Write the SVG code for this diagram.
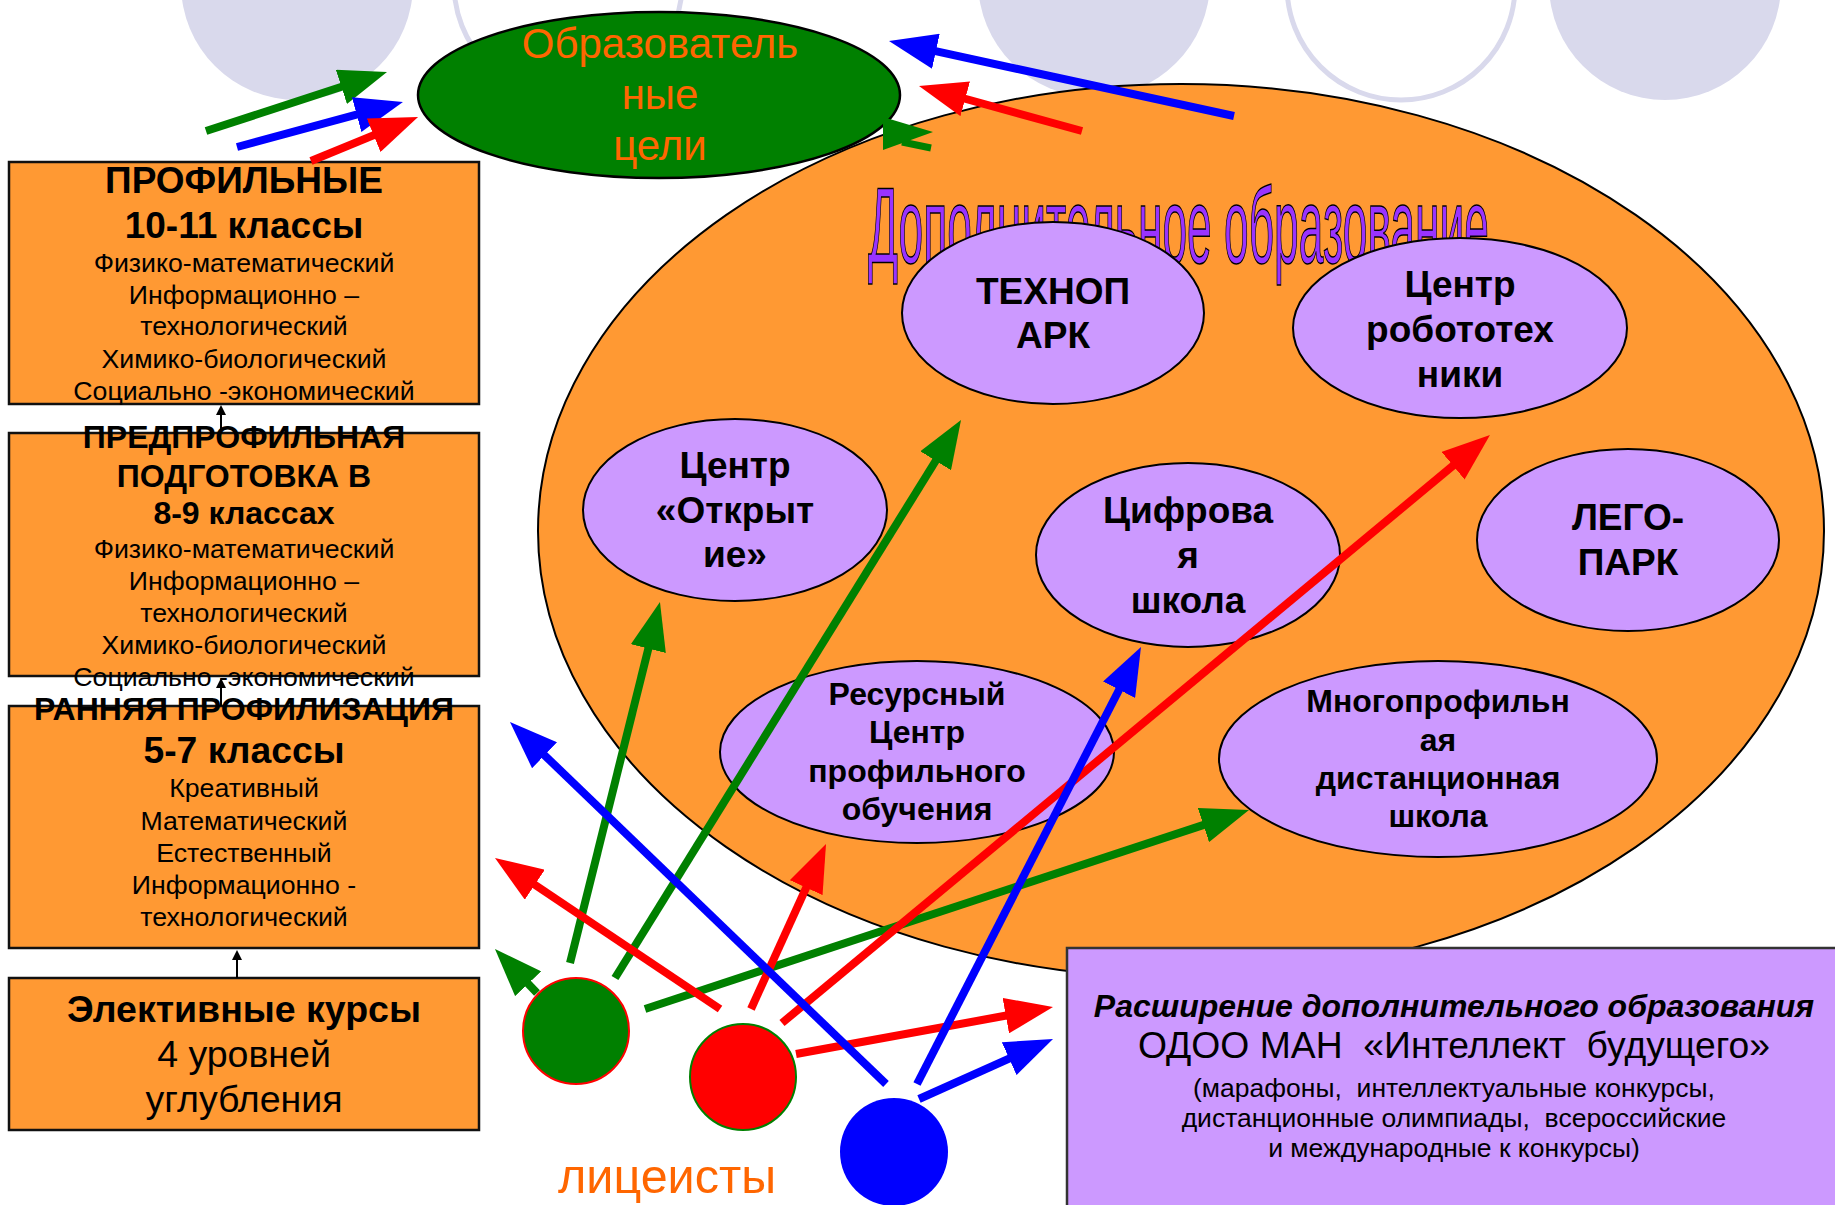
<svg xmlns="http://www.w3.org/2000/svg" width="1835" height="1205" viewBox="0 0 1835 1205">
<style>
.deco{fill:#D9D9EC}
.ring{fill:#FFFFFF;stroke:#D9D9EC;stroke-width:5}
.box{fill:#FF9933;stroke:#111;stroke-width:2.5}
.pel{fill:#CC99FF;stroke:#000;stroke-width:2}
.t{font-family:"Liberation Sans",Arial,sans-serif;text-anchor:middle;fill:#000}
.b{font-weight:bold}
.h1{font-size:37px;font-weight:bold}
.h2{font-size:32px;font-weight:bold}
.r{font-size:26.7px}
.el{font-size:37px;font-weight:bold}
.el2{font-size:32px;font-weight:bold}
.ar{fill:none;stroke-width:8}
.g{stroke:#008000}.rd{stroke:#FF0000}.bl{stroke:#0000FF}
.thin{stroke:#000;stroke-width:2;fill:none}
</style>
<defs>
<marker id="mG" viewBox="0 0 48 36" refX="18" refY="18" markerWidth="48" markerHeight="36" markerUnits="userSpaceOnUse" orient="auto"><path d="M0,0 L48,18 L0,36 Z" fill="#008000"/></marker>
<marker id="mR" viewBox="0 0 48 36" refX="18" refY="18" markerWidth="48" markerHeight="36" markerUnits="userSpaceOnUse" orient="auto"><path d="M0,0 L48,18 L0,36 Z" fill="#FF0000"/></marker>
<marker id="mB" viewBox="0 0 48 36" refX="18" refY="18" markerWidth="48" markerHeight="36" markerUnits="userSpaceOnUse" orient="auto"><path d="M0,0 L48,18 L0,36 Z" fill="#0000FF"/></marker>
<marker id="mK" viewBox="0 0 10 10" refX="2" refY="5" markerWidth="10" markerHeight="10" markerUnits="userSpaceOnUse" orient="auto"><path d="M0,0 L10,5 L0,10 Z" fill="#000"/></marker>
</defs>
<rect width="1835" height="1205" fill="#FFFFFF"/>
<g id="decor">
<circle class="deco" cx="297" cy="-16" r="116"/>
<circle class="ring" cx="568" cy="-16" r="114"/>
<circle class="deco" cx="1094" cy="-19" r="116"/>
<circle class="ring" cx="1401" cy="-14" r="114"/>
<circle class="deco" cx="1665" cy="-16" r="116"/>
</g>
<g id="dop">
<ellipse cx="1181" cy="531" rx="643" ry="447" fill="#FF9933" stroke="#000" stroke-width="2"/>
<text x="868" y="263" font-family="'Liberation Sans',Arial,sans-serif" font-size="108" textLength="621" lengthAdjust="spacingAndGlyphs" fill="#9933FF" stroke="#000" stroke-width="1.5">Дополнительное образование</text>
</g>
<g id="goals">
<ellipse cx="659" cy="95" rx="241" ry="83" fill="#008000" stroke="#000" stroke-width="2.5"/>
<text class="t" x="660" y="58" font-size="42" style="fill:#FF6600">Образователь</text>
<text class="t" x="660" y="109" font-size="42" style="fill:#FF6600">ные</text>
<text class="t" x="660" y="160" font-size="42" style="fill:#FF6600">цели</text>
</g>
<g id="technopark">
<ellipse class="pel" cx="1053" cy="313" rx="151" ry="91"/>
<text class="t el" x="1053" y="304">ТЕХНОП</text>
<text class="t el" x="1053" y="348">АРК</text>
</g>
<g id="robotics">
<ellipse class="pel" cx="1460" cy="328" rx="167" ry="90"/>
<text class="t el" x="1460" y="297">Центр</text>
<text class="t el" x="1460" y="342">робототех</text>
<text class="t el" x="1460" y="387">ники</text>
</g>
<g id="otkrytie">
<ellipse class="pel" cx="735" cy="510" rx="152" ry="91"/>
<text class="t el" x="735" y="478">Центр</text>
<text class="t el" x="735" y="523">«Открыт</text>
<text class="t el" x="735" y="567">ие»</text>
</g>
<g id="digital">
<ellipse class="pel" cx="1188" cy="555" rx="152" ry="92"/>
<text class="t el" x="1188" y="523">Цифрова</text>
<text class="t el" x="1188" y="568">я</text>
<text class="t el" x="1188" y="613">школа</text>
</g>
<g id="lego">
<ellipse class="pel" cx="1628" cy="540" rx="151" ry="91"/>
<text class="t el" x="1628" y="530">ЛЕГО-</text>
<text class="t el" x="1628" y="575">ПАРК</text>
</g>
<g id="resource">
<ellipse class="pel" cx="917" cy="752" rx="197" ry="91"/>
<text class="t el2" x="917" y="705">Ресурсный</text>
<text class="t el2" x="917" y="743">Центр</text>
<text class="t el2" x="917" y="782">профильного</text>
<text class="t el2" x="917" y="820">обучения</text>
</g>
<g id="multiprofile">
<ellipse class="pel" cx="1438" cy="759" rx="219" ry="98"/>
<text class="t el2" x="1438" y="712">Многопрофильн</text>
<text class="t el2" x="1438" y="751">ая</text>
<text class="t el2" x="1438" y="789">дистанционная</text>
<text class="t el2" x="1438" y="827">школа</text>
</g>
<g id="profile">
<rect class="box" x="9" y="162" width="470" height="242"/>
<text class="t h1" x="244" y="193">ПРОФИЛЬНЫЕ</text>
<text class="t h1" x="244" y="238">10-11 классы</text>
<text class="t r" x="244" y="272">Физико-математический</text>
<text class="t r" x="244" y="304">Информационно –</text>
<text class="t r" x="244" y="335">технологический</text>
<text class="t r" x="244" y="368">Химико-биологический</text>
<text class="t r" x="244" y="400">Социально -экономический</text>
</g>
<g id="preprofile">
<rect class="box" x="9" y="433" width="470" height="243"/>
<text class="t h2" x="244" y="448">ПРЕДПРОФИЛЬНАЯ</text>
<text class="t h2" x="244" y="487">ПОДГОТОВКА В</text>
<text class="t h2" x="244" y="524">8-9 классах</text>
<text class="t r" x="244" y="558">Физико-математический</text>
<text class="t r" x="244" y="590">Информационно –</text>
<text class="t r" x="244" y="622">технологический</text>
<text class="t r" x="244" y="654">Химико-биологический</text>
<text class="t r" x="244" y="686">Социально -экономический</text>
</g>
<g id="early">
<rect class="box" x="9" y="706" width="470" height="242"/>
<text class="t h2" x="244" y="720" style="font-size:32px">РАННЯЯ ПРОФИЛИЗАЦИЯ</text>
<text class="t h2" x="244" y="763" style="font-size:37.3px">5-7 классы</text>
<text class="t r" x="244" y="797">Креативный</text>
<text class="t r" x="244" y="830">Математический</text>
<text class="t r" x="244" y="862">Естественный</text>
<text class="t r" x="244" y="894">Информационно -</text>
<text class="t r" x="244" y="926">технологический</text>
</g>
<g id="elective">
<rect class="box" x="9" y="978" width="470" height="152"/>
<text class="t b" x="244" y="1022" font-size="37.5">Элективные курсы</text>
<text class="t" x="244" y="1067" font-size="37.5">4 уровней</text>
<text class="t" x="244" y="1112" font-size="37.5">углубления</text>
</g>
<g id="extension">
<rect x="1067" y="948" width="770" height="262" fill="#CC99FF" stroke="#333" stroke-width="2.5"/>
<text class="t b" x="1454" y="1017" font-size="32" font-style="italic">Расширение дополнительного образования</text>
<text class="t" x="1454" y="1058" font-size="37.3" style="white-space:pre">ОДОО МАН  «Интеллект  будущего»</text>
<text class="t" x="1454" y="1097" font-size="26.5" style="white-space:pre">(марафоны,  интеллектуальные конкурсы,</text>
<text class="t" x="1454" y="1127" font-size="26.5" style="white-space:pre">дистанционные олимпиады,  всероссийские</text>
<text class="t" x="1454" y="1157" font-size="26.5">и международные к конкурсы)</text>
</g>
<g id="connectors">
<line class="thin" x1="221" y1="433" x2="221" y2="413" marker-end="url(#mK)"/>
<line class="thin" x1="221" y1="706" x2="221" y2="686" marker-end="url(#mK)"/>
<line class="thin" x1="237" y1="978" x2="237" y2="958" marker-end="url(#mK)"/>
<line class="ar g" x1="206" y1="131" x2="358.5" y2="81.3" marker-end="url(#mG)"/>
<line class="ar bl" x1="237" y1="147" x2="374" y2="109.8" marker-end="url(#mB)"/>
<line class="ar rd" x1="311" y1="161" x2="390.3" y2="128.4" marker-end="url(#mR)"/>
<line class="ar bl" x1="1234" y1="116" x2="918.3" y2="47.4" marker-end="url(#mB)"/>
<line class="ar rd" x1="1082" y1="131" x2="947.9" y2="94" marker-end="url(#mR)"/>
<polygon points="883,117 933,132 883,150" fill="#008000"/>
<line class="g" x1="902" y1="142" x2="931" y2="148" stroke-width="7"/>
<line class="ar g" x1="570" y1="963" x2="652.7" y2="631.1" marker-end="url(#mG)"/>
<line class="ar g" x1="615" y1="978" x2="945.2" y2="445.5" marker-end="url(#mG)"/>
<line class="ar g" x1="645" y1="1009" x2="1220.5" y2="819.4" marker-end="url(#mG)"/>
<line class="ar g" x1="537" y1="993" x2="515.7" y2="970.7" marker-end="url(#mG)"/>
<line class="ar rd" x1="720" y1="1009" x2="519.9" y2="874.7" marker-end="url(#mR)"/>
<line class="ar rd" x1="751" y1="1009" x2="813.6" y2="871.3" marker-end="url(#mR)"/>
<line class="ar rd" x1="782" y1="1023" x2="1466.9" y2="454.2" marker-end="url(#mR)"/>
<line class="ar rd" x1="796" y1="1054" x2="1023.5" y2="1012.4" marker-end="url(#mR)"/>
<line class="ar bl" x1="886" y1="1084" x2="531.6" y2="742.8" marker-end="url(#mB)"/>
<line class="ar bl" x1="917" y1="1084" x2="1127.3" y2="673.7" marker-end="url(#mB)"/>
<line class="ar bl" x1="919" y1="1099" x2="1025.6" y2="1051.3" marker-end="url(#mB)"/>
</g>
<g id="students">
<circle cx="576" cy="1031" r="53" fill="#008000" stroke="#FF0000" stroke-width="2"/>
<circle cx="743" cy="1077" r="53" fill="#FF0000" stroke="#008000" stroke-width="2"/>
<circle cx="894" cy="1152" r="54" fill="#0000FF"/>
<text x="558" y="1193" font-family="'Liberation Sans',Arial,sans-serif" font-size="48.5" fill="#FF6600">лицеисты</text>
</g>
</svg>
